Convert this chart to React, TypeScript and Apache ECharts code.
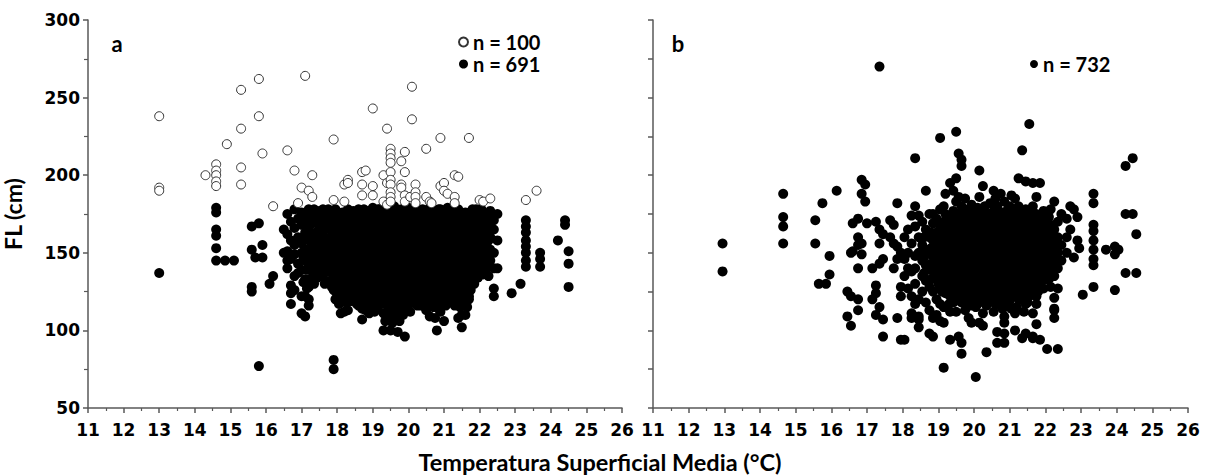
import React, { useEffect, useRef } from "react";
import * as echarts from "echarts";

// Panel a: open circles (n = 100) — [temperature, list of FL values]
const aOpenCols: [number, number[]][] = [
  [13.0, [238, 192, 190]],
  [14.3, [200]],
  [14.6, [207, 203, 200, 196, 193]],
  [14.9, [220]],
  [15.3, [255, 230, 205, 194]],
  [15.8, [262, 238]],
  [15.9, [214]],
  [16.2, [180]],
  [16.6, [216]],
  [16.8, [203]],
  [16.9, [182]],
  [17.0, [192]],
  [17.1, [264]],
  [17.2, [190]],
  [17.3, [200, 186]],
  [17.9, [223, 184]],
  [18.2, [194, 183]],
  [18.3, [197, 195]],
  [18.7, [202, 194, 187]],
  [18.8, [203]],
  [19.0, [243, 193, 187]],
  [19.3, [200, 183]],
  [19.4, [230, 195, 181]],
  [19.5, [217, 214, 211, 208, 202, 197, 194, 189, 186, 183]],
  [19.8, [209, 194, 192]],
  [19.9, [215, 202, 187, 183]],
  [20.05, [186]],
  [20.1, [257, 236]],
  [20.2, [194, 189, 186, 182]],
  [20.5, [217, 186]],
  [20.6, [183]],
  [20.65, [182]],
  [20.9, [224, 193]],
  [21.0, [195, 190]],
  [21.1, [188]],
  [21.3, [200, 186, 182]],
  [21.4, [199]],
  [21.7, [224]],
  [22.0, [184]],
  [22.1, [183]],
  [22.3, [185]],
  [23.3, [184]],
  [23.6, [190]],
];

// Panel a: filled circles (n = 691), outer points and main columns
const aFilledCols: [number, number[]][] = [
  [13.0, [137]],
  [14.6, [179, 176, 165, 161, 153, 145]],
  [14.85, [145]],
  [15.1, [145]],
  [15.6, [167, 152, 128, 125]],
  [15.7, [147]],
  [15.8, [169, 77]],
  [15.9, [155, 147]],
  [16.1, [130]],
  [16.2, [135]],
  [16.5, [165, 150]],
  [16.6, [175, 162, 151, 145, 140]],
  [16.7, [170, 158, 146, 129, 117, 124]],
  [16.8, [178, 166, 155, 149, 126, 135]],
  [16.9, [172, 160, 143, 137]],
  [17.0, [176, 168, 156, 150, 139, 122, 111]],
  [17.1, [171, 163, 145, 133, 122, 109]],
  [17.2, [178, 166, 158, 149, 141, 128, 120, 116]],
  [17.3, [175, 169, 154, 146, 138]],
  [17.4, [172, 163, 151, 143, 138]],
  [17.5, [177, 167, 158, 147, 140]],
  [17.6, [178, 170, 161, 150, 135, 142]],
  [17.7, [174, 166, 155, 145, 138]],
  [17.8, [170, 160, 152, 143, 132]],
  [17.9, [173, 165, 156, 147, 138, 126, 81, 75]],
  [18.0, [176, 168, 158, 150, 141, 132, 122]],
  [18.1, [171, 162, 154, 145, 136, 118, 111]],
  [18.2, [175, 166, 157, 148, 140, 128, 112]],
  [18.3, [178, 169, 160, 151, 143, 133, 124, 113]],
  [18.4, [172, 163, 155, 146, 137, 128, 119]],
  [18.5, [176, 167, 158, 149, 140, 131, 122]],
  [18.6, [178, 170, 161, 152, 143, 134, 125, 116]],
  [18.7, [175, 165, 156, 147, 138, 129, 120, 114, 107]],
  [18.8, [172, 163, 154, 145, 136, 127, 118, 113]],
  [18.9, [177, 168, 159, 150, 141, 132, 123, 111]],
  [19.0, [179, 170, 161, 152, 143, 134, 125, 116]],
  [19.1, [174, 165, 156, 147, 138, 129, 120]],
  [19.2, [178, 169, 160, 151, 142, 133, 126, 118]],
  [19.3, [176, 167, 158, 149, 140, 131, 122, 111, 100]],
  [19.4, [179, 170, 161, 152, 143, 134, 125, 116, 108]],
  [19.5, [177, 168, 159, 150, 141, 132, 123, 114, 100]],
  [19.6, [180, 171, 162, 153, 144, 135, 126, 117, 109]],
  [19.7, [175, 166, 157, 148, 139, 130, 121, 112, 99]],
  [19.8, [178, 169, 160, 151, 142, 133, 124, 115]],
  [19.9, [176, 167, 158, 149, 140, 131, 122, 113, 96]],
  [20.0, [179, 170, 161, 152, 143, 134, 125, 116]],
  [20.1, [177, 168, 159, 150, 141, 132, 123]],
  [20.2, [180, 171, 162, 153, 144, 135, 125, 120]],
  [20.3, [175, 166, 157, 148, 139, 130, 120]],
  [20.4, [178, 169, 160, 151, 142, 133, 124, 117]],
  [20.5, [176, 167, 158, 149, 140, 131, 122, 113, 116]],
  [20.6, [179, 170, 161, 152, 143, 134, 125, 109]],
  [20.7, [177, 168, 159, 150, 141, 132, 123, 115]],
  [20.8, [174, 165, 156, 147, 138, 129, 120, 100]],
  [20.9, [178, 169, 160, 151, 142, 133, 124, 112]],
  [21.0, [176, 167, 158, 149, 140, 131, 122, 106]],
  [21.1, [179, 170, 161, 152, 143, 134, 126, 118]],
  [21.2, [175, 166, 157, 148, 139, 130, 121]],
  [21.3, [177, 168, 159, 150, 141, 132, 126, 116]],
  [21.4, [178, 169, 160, 151, 142, 133, 124, 108]],
  [21.5, [174, 165, 156, 147, 138, 129, 120, 110, 102]],
  [21.6, [176, 167, 158, 149, 140, 131, 122, 110]],
  [21.7, [175, 166, 157, 148, 139, 130, 122, 120]],
  [21.8, [178, 169, 160, 151, 142, 133]],
  [21.9, [178, 170, 162, 154, 146, 138]],
  [22.0, [174, 166, 158, 150, 142]],
  [22.1, [176, 168, 160, 152, 144, 136]],
  [22.2, [172, 164, 156, 148, 140]],
  [22.3, [177, 168, 160, 152, 145]],
  [22.4, [171, 165, 150, 140, 127, 122]],
  [22.5, [175, 158, 140]],
  [22.9, [124]],
  [23.15, [130]],
  [23.3, [171, 167, 163, 158, 154, 150, 145, 141]],
  [23.7, [150, 146, 141]],
  [24.2, [158]],
  [24.4, [171, 168]],
  [24.5, [151, 143, 128]],
];

// Panel a: filled circles in the dense core, between the main columns
const aFilledCore: [number, number[]][] = [
  [17.05, [173, 160, 147, 131]],
  [17.15, [175, 152, 139, 127]],
  [17.25, [172, 162, 145, 133]],
  [17.35, [178, 159, 150, 141, 130]],
  [17.45, [175, 156, 147, 134]],
  [17.55, [172, 163, 153, 144, 136]],
  [17.65, [175, 165, 156, 147, 130]],
  [17.75, [178, 169, 159, 150, 141]],
  [17.85, [175, 164, 155, 146, 137, 128]],
  [17.95, [178, 169, 160, 151, 142, 133, 120]],
  [18.05, [172, 163, 154, 145, 137, 127, 117]],
  [18.15, [176, 167, 158, 149, 140, 130, 123]],
  [18.25, [171, 162, 153, 144, 135, 126, 118]],
  [18.35, [174, 165, 156, 147, 138, 129, 119]],
  [18.45, [177, 168, 159, 150, 142, 133, 124]],
  [18.55, [172, 163, 154, 145, 136, 127, 117]],
  [18.65, [174, 165, 156, 147, 139, 130, 121]],
  [18.75, [178, 169, 160, 151, 142, 133, 124, 116]],
  [18.85, [176, 167, 158, 149, 140, 131, 122]],
  [18.95, [173, 164, 155, 146, 137, 128, 118]],
  [19.05, [175, 166, 157, 148, 139, 130, 121, 112]],
  [19.15, [178, 169, 160, 151, 142, 133, 124, 115]],
  [19.25, [172, 163, 154, 145, 136, 127, 118]],
  [19.35, [174, 165, 156, 147, 138, 128, 119, 106]],
  [19.45, [175, 166, 157, 148, 139, 130, 120, 112]],
  [19.55, [173, 164, 155, 146, 137, 128, 119, 105]],
  [19.65, [176, 167, 158, 149, 140, 131, 122, 113]],
  [19.75, [171, 162, 153, 144, 135, 126, 117, 106]],
  [19.85, [174, 165, 156, 147, 138, 129, 120, 110]],
  [19.95, [172, 163, 154, 145, 136, 127, 118]],
  [20.05, [175, 166, 157, 148, 139, 130, 121, 112]],
  [20.15, [173, 164, 155, 146, 137, 128, 119]],
  [20.25, [176, 167, 158, 149, 140, 130, 116]],
  [20.35, [171, 162, 153, 144, 135, 126, 116]],
  [20.45, [174, 165, 156, 147, 138, 129, 120]],
  [20.55, [172, 163, 154, 145, 136, 127, 118]],
  [20.65, [175, 166, 157, 148, 139, 130, 120]],
  [20.75, [172, 163, 154, 145, 136, 127, 118, 108]],
  [20.85, [178, 169, 160, 151, 142, 133, 124, 114]],
  [20.95, [173, 164, 155, 146, 137, 128, 119]],
  [21.05, [171, 162, 153, 144, 135, 126, 116]],
  [21.15, [174, 165, 156, 147, 138, 130, 122]],
  [21.25, [171, 162, 153, 144, 135, 126, 118]],
  [21.35, [173, 164, 155, 146, 137, 128, 120]],
  [21.45, [174, 165, 156, 147, 138, 129, 115]],
  [21.55, [170, 161, 152, 143, 134, 125, 116]],
  [21.65, [172, 163, 154, 145, 136, 127, 115]],
  [21.75, [171, 162, 153, 144, 135, 126]],
  [21.85, [174, 165, 156, 147, 138, 130]],
  [21.95, [174, 166, 158, 150, 142, 134]],
  [22.05, [178, 170, 162, 154, 146, 138]],
  [22.15, [172, 164, 156, 148, 140]],
  [22.25, [174, 166, 158, 149, 142, 135]],
];

// Panel b: filled circles (n = 732), outer points and main columns
const bFilledCols: [number, number[]][] = [
  [12.95, [156, 138]],
  [14.65, [188, 173, 167, 156]],
  [15.55, [171, 156]],
  [15.65, [130]],
  [15.75, [182]],
  [15.85, [130]],
  [15.95, [148, 136]],
  [16.15, [190]],
  [16.45, [125, 109]],
  [16.55, [150, 122, 103]],
  [16.6, [169, 151]],
  [16.75, [172, 160, 155, 140, 120, 113]],
  [16.85, [197, 188, 156, 149]],
  [16.95, [194, 183]],
  [17.0, [169]],
  [17.15, [140, 120]],
  [17.25, [170, 129, 124, 110]],
  [17.35, [270, 165, 156, 143, 115]],
  [17.45, [162, 146, 107, 96]],
  [17.65, [171, 160]],
  [17.75, [168, 156, 140]],
  [17.85, [182, 154, 146, 108]],
  [17.95, [150, 128, 122, 94]],
  [18.05, [160, 146, 135, 94]],
  [18.15, [165, 150, 140, 127]],
  [18.25, [174, 156, 138, 122, 108, 111]],
  [18.35, [211, 180, 167, 148, 140, 130, 117]],
  [18.45, [174, 160, 150, 120, 109, 102, 107]],
  [18.55, [170, 155, 145, 135, 125]],
  [18.65, [190, 165, 152, 142, 132, 118]],
  [18.75, [175, 160, 150, 140, 128, 113, 98]],
  [18.85, [175, 169, 158, 148, 138, 125, 108, 96]],
  [18.95, [172, 163, 153, 143, 133, 120, 110]],
  [19.05, [224, 178, 167, 157, 147, 137, 127, 117, 106]],
  [19.15, [180, 170, 160, 150, 140, 130, 115, 105, 76]],
  [19.2, [188, 175, 165, 155, 145, 135, 124]],
  [19.33, [195, 172, 162, 152, 142, 132, 122, 112, 94]],
  [19.42, [190, 177, 167, 157, 147, 137, 127, 118]],
  [19.5, [228, 198, 183, 170, 160, 150, 140, 130, 120, 112]],
  [19.57, [214, 186, 175, 165, 155, 145, 135, 125, 96]],
  [19.65, [210, 206, 180, 168, 158, 148, 138, 128, 118, 92, 85]],
  [19.75, [185, 173, 163, 153, 143, 133, 123, 113]],
  [19.85, [178, 168, 158, 148, 138, 128, 118, 108]],
  [19.93, [181, 171, 161, 151, 141, 131, 121, 105]],
  [20.05, [176, 166, 156, 146, 136, 126, 115, 70]],
  [20.15, [203, 186, 172, 162, 152, 142, 132, 122, 105]],
  [20.25, [193, 178, 168, 158, 148, 138, 128, 111, 103]],
  [20.35, [175, 165, 155, 145, 135, 125, 116, 86]],
  [20.45, [182, 170, 160, 150, 140, 130, 120]],
  [20.55, [190, 177, 167, 157, 147, 137, 127, 112]],
  [20.65, [180, 172, 162, 152, 142, 132, 122, 99, 92]],
  [20.75, [188, 176, 166, 156, 146, 136, 126, 116]],
  [20.85, [183, 171, 161, 151, 141, 131, 121, 109, 105, 98, 92]],
  [20.95, [178, 168, 158, 148, 138, 128, 118]],
  [21.05, [187, 174, 164, 154, 144, 134, 124, 114]],
  [21.15, [185, 177, 167, 157, 147, 137, 127, 111, 100]],
  [21.25, [198, 180, 170, 160, 150, 140, 130, 120]],
  [21.35, [216, 175, 165, 155, 145, 135, 125, 95]],
  [21.45, [196, 178, 168, 158, 148, 138, 128, 117, 98]],
  [21.55, [233, 173, 163, 153, 143, 133, 122]],
  [21.65, [195, 180, 170, 160, 150, 140, 130, 111, 96, 95]],
  [21.75, [186, 175, 165, 155, 145, 135, 122, 117, 104]],
  [21.85, [195, 170, 160, 150, 140, 130, 94]],
  [21.95, [177, 167, 157, 147, 137, 127]],
  [22.05, [173, 163, 153, 143, 133, 88]],
  [22.15, [178, 168, 158, 148, 138, 128]],
  [22.25, [183, 165, 155, 145, 135, 121, 114, 108, 113]],
  [22.35, [170, 160, 150, 140, 127, 88]],
  [22.45, [175, 155, 145]],
  [22.6, [172, 160, 150]],
  [22.7, [180, 165]],
  [22.8, [178, 147]],
  [22.9, [173, 158]],
  [22.95, [153]],
  [23.05, [123]],
  [23.35, [188, 182, 168, 164, 158, 152, 146, 142, 128]],
  [23.7, [152]],
  [23.95, [154, 149, 126]],
  [24.05, [152]],
  [24.25, [206, 175, 137]],
  [24.45, [211, 175]],
  [24.55, [162, 137]],
];

// Panel b: filled circles in the dense core
const bFilledCore: [number, number[]][] = [
  [18.6, [160, 147, 137]],
  [18.8, [163, 153, 143, 133]],
  [19.0, [170, 160, 150, 140, 130]],
  [19.1, [165, 155, 145, 135, 125]],
  [19.3, [167, 157, 147, 137, 127, 117]],
  [19.45, [172, 162, 152, 142, 132, 122]],
  [19.6, [170, 160, 150, 140, 130, 120]],
  [19.7, [178, 168, 158, 148, 138, 128, 118]],
  [19.8, [173, 163, 153, 143, 133, 123]],
  [19.9, [176, 166, 156, 146, 136, 126, 116]],
  [20.0, [171, 161, 151, 141, 131, 121]],
  [20.1, [179, 167, 157, 147, 137, 127, 117]],
  [20.2, [173, 163, 153, 143, 133, 123]],
  [20.3, [180, 170, 160, 150, 140, 130, 120]],
  [20.4, [175, 165, 155, 145, 135, 125]],
  [20.5, [172, 162, 152, 142, 132, 122]],
  [20.6, [185, 167, 157, 147, 137, 127, 117]],
  [20.7, [170, 160, 150, 140, 130, 120]],
  [20.8, [176, 166, 156, 146, 136, 126, 114]],
  [20.9, [173, 163, 153, 143, 133, 123]],
  [21.0, [180, 169, 159, 149, 139, 129, 119]],
  [21.1, [172, 162, 152, 142, 132, 122]],
  [21.2, [175, 165, 155, 145, 135, 125, 115]],
  [21.3, [170, 160, 150, 140, 130, 120]],
  [21.4, [173, 163, 153, 143, 133, 123, 112]],
  [21.5, [168, 158, 148, 138, 128, 118]],
  [21.6, [175, 165, 155, 145, 135, 125]],
  [21.7, [170, 160, 150, 140, 128]],
  [21.8, [165, 155, 145, 135, 125]],
  [21.9, [172, 162, 152, 142, 132]],
  [22.0, [168, 158, 148, 138]],
  [22.1, [173, 163, 153, 143, 133]],
  [22.2, [160, 150, 140]],
];

const seriesNames = { aOpen: "n = 100", aFilled: "n = 691", bFilled: "n = 732" };
const xTitle = "Temperatura Superficial Media (°C)";
const yTitle = "FL (cm)";

const toPoints = (cols: [number, number[]][]) =>
  cols.flatMap(([x, ys]) => ys.map((y) => [x, y]));

const AXIS = "#595959";
const TICK_FONT = "DejaVu Sans, sans-serif";
const TEXT_FONT = "Lato, sans-serif";

function makeX(gridIndex: number) {
  return {
    type: "value",
    gridIndex,
    min: 11,
    max: 26,
    interval: 1,
    axisLine: { show: true, lineStyle: { color: AXIS, width: 1.5 } },
    axisTick: { show: true, length: 5, lineStyle: { color: AXIS, width: 1.5 } },
    minorTick: { show: true, splitNumber: 2, length: 3, lineStyle: { color: AXIS, width: 1.2 } },
    splitLine: { show: false },
    axisLabel: {
      fontFamily: TICK_FONT,
      fontWeight: "bold",
      fontSize: 17,
      color: "#000",
      margin: 13,
    },
  };
}

export default function App() {
  const ref = useRef<HTMLDivElement>(null);
  useEffect(() => {
    if (!ref.current) return;
    const chart = echarts.init(ref.current, undefined, { renderer: "svg" });
    const filledStyle = { color: "#000", opacity: 1 };
    chart.setOption({
      animation: false,
      backgroundColor: "#fff",
      grid: [
        { left: 87, top: 20, width: 535, height: 388 },
        { left: 653, top: 20, width: 535, height: 388 },
      ],
      xAxis: [makeX(0), makeX(1)],
      yAxis: [
        {
          type: "value",
          gridIndex: 0,
          min: 50,
          max: 300,
          interval: 50,
          name: yTitle,
          nameLocation: "middle",
          nameRotate: 90,
          nameGap: 64,
          nameTextStyle: { fontFamily: TEXT_FONT, fontWeight: "bold", fontSize: 23, color: "#000" },
          axisLine: { show: true, lineStyle: { color: AXIS, width: 1.5 } },
          axisTick: { show: true, length: 5, lineStyle: { color: AXIS, width: 1.5 } },
          minorTick: { show: true, splitNumber: 2, length: 4, lineStyle: { color: AXIS, width: 1.2 } },
          splitLine: { show: false },
          axisLabel: {
            fontFamily: TICK_FONT,
            fontWeight: "bold",
            fontSize: 17,
            color: "#000",
            margin: 8,
          },
        },
        {
          type: "value",
          gridIndex: 1,
          min: 50,
          max: 300,
          interval: 25,
          axisLine: { show: true, lineStyle: { color: AXIS, width: 1.5 } },
          axisTick: { show: true, length: 5, lineStyle: { color: AXIS, width: 1.5 } },
          splitLine: { show: false },
          axisLabel: { show: false },
        },
      ],
      legend: [
        {
          data: [seriesNames.aOpen, seriesNames.aFilled],
          orient: "vertical",
          left: 453,
          top: 27,
          itemWidth: 9,
          itemHeight: 9,
          itemGap: 2,
          itemTextGap: 11,
          icon: "circle",
          selectedMode: false,
          textStyle: { fontFamily: TEXT_FONT, fontWeight: "bold", fontSize: 20, color: "#000" },
        },
        {
          data: [seriesNames.bFilled],
          orient: "vertical",
          left: 1025,
          top: 49,
          itemWidth: 8,
          itemHeight: 8,
          itemTextGap: 11,
          icon: "circle",
          selectedMode: false,
          textStyle: { fontFamily: TEXT_FONT, fontWeight: "bold", fontSize: 20, color: "#000" },
        },
      ],
      graphic: [
        {
          type: "text",
          x: 117,
          y: 43,
          style: { text: "a", font: `bold 22px ${TEXT_FONT}`, fill: "#000", align: "center", verticalAlign: "middle" },
        },
        {
          type: "text",
          x: 678,
          y: 43,
          style: { text: "b", font: `bold 22px ${TEXT_FONT}`, fill: "#000", align: "center", verticalAlign: "middle" },
        },
        {
          type: "text",
          x: 600,
          y: 462,
          style: { text: xTitle, font: `bold 23.5px ${TEXT_FONT}`, fill: "#000", align: "center", verticalAlign: "middle" },
        },
      ],
      series: [
        {
          name: seriesNames.aFilled,
          type: "scatter",
          xAxisIndex: 0,
          yAxisIndex: 0,
          symbol: "circle",
          symbolSize: 10,
          itemStyle: filledStyle,
          data: [...toPoints(aFilledCols), ...toPoints(aFilledCore)],
        },
        {
          name: seriesNames.aOpen,
          type: "scatter",
          xAxisIndex: 0,
          yAxisIndex: 0,
          symbol: "circle",
          symbolSize: 9,
          itemStyle: { color: "#fff", borderColor: "#333", borderWidth: 1, opacity: 1 },
          data: toPoints(aOpenCols),
        },
        {
          name: seriesNames.bFilled,
          type: "scatter",
          xAxisIndex: 1,
          yAxisIndex: 1,
          symbol: "circle",
          symbolSize: 10,
          itemStyle: filledStyle,
          data: [...toPoints(bFilledCols), ...toPoints(bFilledCore)],
        },
      ],
    });
    return () => chart.dispose();
  }, []);
  return (
    <div
      ref={ref}
      style={{ position: "fixed", left: 0, top: 0, width: 1208, height: 475, background: "#fff" }}
    />
  );
}
